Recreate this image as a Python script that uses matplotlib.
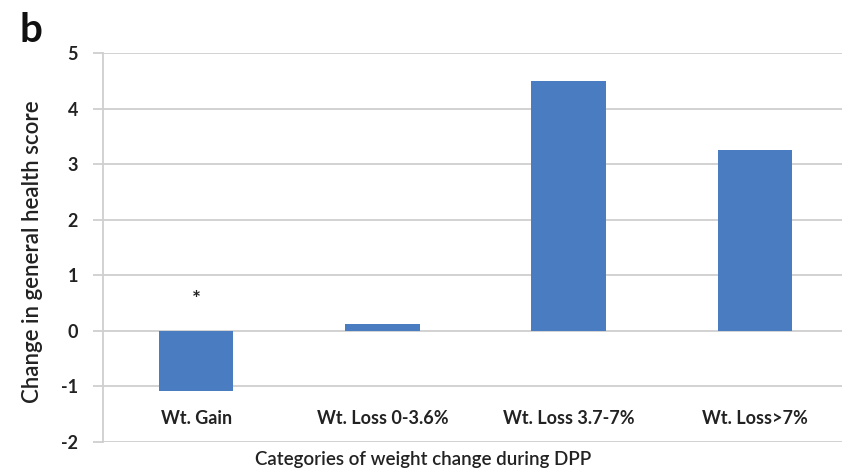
import matplotlib
matplotlib.use("Agg")
import matplotlib.pyplot as plt

categories = ["Wt. Gain", "Wt. Loss 0-3.6%", "Wt. Loss 3.7-7%", "Wt. Loss>7%"]
values = [-1.08, 0.12, 4.49, 3.25]
yticks = [-2, -1, 0, 1, 2, 3, 4, 5]
star_category = 0
star_value = 0.55

BAR = "#4a7cc1"
GRID = "#cfcfcf"
TEXT = "#222222"

plt.rcParams["font.family"] = ["Lato", "DejaVu Sans"]

fig = plt.figure(figsize=(8.42, 4.73), dpi=100)
W, H = 842, 473
left, right, top, bottom = 103, 848, 53, 442
ax = fig.add_axes([left / W, 1 - bottom / H, (right - left) / W, (bottom - top) / H])

x = list(range(len(categories)))
ax.bar(x, values, width=0.4, color=BAR, zorder=3)

ax.set_xlim(-0.5, len(categories) - 0.5)
ax.set_ylim(yticks[0], yticks[-1])
ax.set_yticks(yticks)
ax.set_yticklabels([str(t) for t in yticks], fontsize=13, fontweight="bold", color=TEXT)
ax.yaxis.grid(True, color=GRID, linewidth=1.3, zorder=0)
ax.set_xticks([])

for s in ["top", "right", "bottom"]:
    ax.spines[s].set_visible(False)
ax.spines["left"].set_color(GRID)
ax.spines["left"].set_linewidth(1.3)
ax.tick_params(axis="y", length=7, width=1.3, color=GRID, pad=11)

# category names sit inside the plot, between the -1 and -2 gridlines
for xi, name in zip(x, categories):
    ax.text(xi, -1.57, name, ha="center", va="center", fontsize=13,
            fontweight="bold", color=TEXT)

ax.text(star_category, star_value, "*", ha="center", va="center",
        fontsize=15, fontweight="bold", color=TEXT)

ax.set_ylabel("Change in general health score", fontsize=16, fontweight="semibold",
              color=TEXT)
ax.set_xlabel("Categories of weight change during DPP", fontsize=13.5,
              fontweight="semibold", color=TEXT)
ax.xaxis.set_label_coords((423 - left) / (right - left), -0.022)
ax.yaxis.set_label_coords(-0.081, 0.49)

fig.text(19 / W, 1 - 30 / H, "b", fontsize=29, fontweight="bold", color="#111111",
         ha="left", va="center")

fig.savefig("out.png", dpi=100)
